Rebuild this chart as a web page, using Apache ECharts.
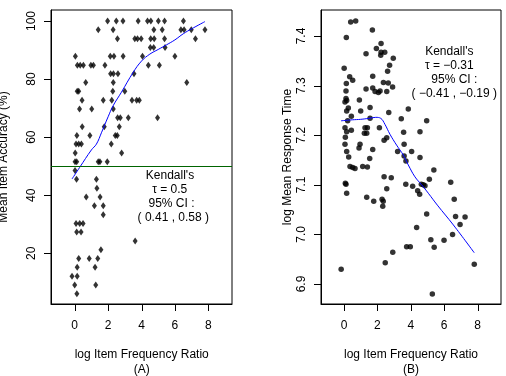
<!DOCTYPE html>
<html>
<head>
<meta charset="utf-8">
<script src="https://cdn.jsdelivr.net/npm/echarts@6/dist/echarts.min.js"></script>
</head>
<body style="margin:0;background:#fff">
<div id="main" style="width:506px;height:376px"></div>
<script>
// x tick values shared by both panels
let xTicks = [0, 2, 4, 6, 8];
let accTicks = [20, 40, 60, 80, 100];
let rtTicks = [6.9, 7.0, 7.1, 7.2, 7.3, 7.4];

// Panel A: accuracy rows (%) and the x positions of the items in each row
let accRows = [100, 97, 93.9, 90.9, 87.9, 84.8, 81.8, 78.8, 75.8, 72.7, 69.7, 66.7,
    63.6, 60.6, 57.6, 54.5, 51.5, 48.5, 45.5, 42.4, 39.4, 36.4, 33.3, 30.3, 27.3,
    24.2, 21.2, 18.2, 15.2, 12.1, 9.1, 6.1];
let accXs = [
    [1.97, 2.49, 2.89, 3.8, 4.36, 4.56, 5.01, 5.38, 6.51],
    [1.41, 2.3, 4.74, 5.24, 6.36, 6.55, 6.98, 7.8],
    [2.56, 3.6, 3.76, 3.98, 4.55, 4.76, 5.38, 7.23],
    [4.53, 4.73, 5.41],
    [0.04, 2.13, 2.35, 2.9, 4.06, 6.0],
    [0.16, 0.33, 0.52, 0.97, 1.12, 1.81, 4.41, 5.07],
    [2.15, 2.32, 2.59, 3.55],
    [0.66, 2.31, 6.71],
    [0.15, 0.24, 2.28, 3.0],
    [0.44, 1.71, 2.22, 3.43, 3.71, 3.87],
    [0.29, 1.02, 2.31],
    [2.57, 2.73, 3.21, 4.96],
    [0.45, 1.77, 2.67],
    [0.13, 0.91, 2.43, 2.55],
    [0.08, 0.24, 0.4, 2.19],
    [0.03, 2.81],
    [0.02, 0.12, 1.41, 1.51, 1.95],
    [0.02],
    [0.11, 1.3],
    [1.33],
    [0.69, 1.52],
    [1.18, 1.71],
    [1.71],
    [0.08, 0.3, 0.5],
    [0.12, 0.38],
    [3.62],
    [1.57],
    [0.24, 0.87, 1.38],
    [0.15, 1.22],
    [-0.16, 0.15],
    [0.0, 1.26],
    [0.13]
];
// loess-like smooth for panel A
let accFit = [[-0.16, 45.6], [0.3, 49.6], [1.0, 55.6], [1.3, 57.6], [1.6, 61.5],
    [2.0, 67], [2.3, 70.8], [2.8, 75.5], [3.5, 82.3], [4.0, 86.2], [4.5, 88.6],
    [5.0, 90.2], [5.5, 91.8], [6.0, 93.5], [6.5, 95.6], [7.0, 97.3], [7.8, 99.8]];

// Panel B: log mean response time per item
let rtPoints = [
    [0.40, 7.428], [0.70, 7.430], [0.14, 7.397], [1.70, 7.412], [2.22, 7.385],
    [1.32, 7.364], [1.94, 7.375], [2.22, 7.367], [2.2, 7.361], [2.44, 7.367],
    [2.95, 7.355], [2.73, 7.341], [2.61, 7.329], [0.01, 7.335], [0.34, 7.318],
    [0.52, 7.311], [1.72, 7.319], [0.14, 7.304], [2.36, 7.306], [2.65, 7.305],
    [2.91, 7.297], [1.32, 7.293], [1.72, 7.295], [1.86, 7.288], [2.06, 7.286],
    [2.16, 7.289], [2.56, 7.288], [0.12, 7.289], [0.12, 7.274], [0.16, 7.270],
    [0.06, 7.267], [0.92, 7.271], [1.56, 7.256], [3.85, 7.253], [0.26, 7.255],
    [0.16, 7.249], [1.0, 7.249], [2.68, 7.246], [0.22, 7.229], [0.44, 7.238],
    [1.56, 7.234], [3.43, 7.233], [4.95, 7.229], [0.06, 7.215], [0.16, 7.207],
    [0.44, 7.210], [1.26, 7.215], [1.40, 7.215], [1.22, 7.204], [1.36, 7.204],
    [2.12, 7.215], [3.57, 7.206], [4.55, 7.207], [0.08, 7.196], [2.56, 7.195],
    [2.40, 7.190], [0.06, 7.182], [0.96, 7.182], [0.90, 7.174], [1.72, 7.171],
    [0.16, 7.167], [3.21, 7.167], [4.05, 7.167], [0.28, 7.156], [1.54, 7.153],
    [3.60, 7.182], [3.60, 7.158], [3.71, 7.148], [4.55, 7.155], [0.36, 7.137],
    [0.52, 7.135], [0.66, 7.133], [1.12, 7.137], [1.40, 7.136], [5.38, 7.130],
    [2.40, 7.116], [2.83, 7.114], [5.11, 7.111], [0.08, 7.103], [0.12, 7.101],
    [3.70, 7.101], [4.11, 7.097], [4.63, 7.101], [4.75, 7.100], [4.85, 7.098],
    [6.39, 7.105], [2.56, 7.092], [4.41, 7.088], [4.53, 7.081], [0.16, 7.083],
    [1.36, 7.075], [1.78, 7.067], [2.28, 7.071], [2.35, 7.067], [2.32, 7.057],
    [6.60, 7.071], [4.95, 7.041], [4.35, 7.014], [3.75, 6.975], [3.97, 6.975],
    [5.20, 6.989], [5.40, 6.974], [5.99, 6.988], [6.50, 7.000], [6.68, 7.036],
    [6.95, 7.020], [7.25, 7.035], [7.80, 6.940], [5.29, 6.880], [2.92, 6.964],
    [2.47, 6.943], [-0.17, 6.930]
];
// smooth for panel B
let rtFit = [[-0.18, 7.229], [0.5, 7.231], [1.0, 7.232], [1.5, 7.234], [1.9, 7.236],
    [2.2, 7.234], [2.45, 7.222], [2.75, 7.202], [3.15, 7.180], [3.55, 7.160],
    [3.85, 7.140], [4.25, 7.116], [4.65, 7.100], [5.05, 7.083], [5.59, 7.059],
    [6.55, 7.019], [7.8, 6.963]];

let accThreshold = 50;

// axis ranges (R style padding)
let accX = [-1.419, 9.419], accY = [2.54, 103.79];
let rtX = [-1.377, 9.401], rtY = [6.8597, 7.4524];

// plot boxes
let gridA = { left: 51, top: 10, width: 181, height: 294 };
let gridB = { left: 321, top: 10, width: 180, height: 294 };

// Build panel A points from the rows
let accPoints = [];
for (let i = 0; i < accRows.length; i++) {
    accXs[i].forEach(x => accPoints.push([x, accRows[i]]));
}

let font = 'Liberation Sans, Arial, sans-serif';
let tickLen = 7;

function xAxisFor(gridIndex, range) {
    return {
        type: 'value', gridIndex: gridIndex, min: range[0], max: range[1],
        splitLine: { show: false },
        axisLine: { show: true, onZero: false, lineStyle: { color: '#000' } },
        axisTick: { show: false },
        axisLabel: { margin: 16, customValues: xTicks,
            color: '#000', fontFamily: font, fontSize: 12 }
    };
}

function yAxisFor(gridIndex, range, ticks, fmt) {
    return {
        type: 'value', gridIndex: gridIndex, min: range[0], max: range[1],
        splitLine: { show: false },
        axisLine: { show: true, onZero: false, lineStyle: { color: '#000' } },
        axisTick: { show: false },
        axisLabel: { margin: 13, rotate: 90, customValues: ticks,
            color: '#000', fontFamily: font, fontSize: 12, formatter: fmt }
    };
}

function label(text, x, y, rot) {
    return {
        type: 'text', x: x, y: y, rotation: rot || 0, z: 100,
        style: { text: text, fill: '#000', font: '12px ' + font,
            textAlign: 'center', textVerticalAlign: 'middle' }
    };
}

// tick marks outside each box, same linear mapping as the value axes
function tickLines(g, xr, yr, yTicks) {
    let out = [];
    let bottom = g.top + g.height;
    xTicks.forEach(v => {
        let x = Math.round(g.left + (v - xr[0]) / (xr[1] - xr[0]) * g.width) + 0.5;
        out.push({ type: 'line', z: 100,
            shape: { x1: x, y1: bottom, x2: x, y2: bottom + tickLen },
            style: { stroke: '#000', lineWidth: 1 } });
    });
    yTicks.forEach(v => {
        let y = Math.round(g.top + (yr[1] - v) / (yr[1] - yr[0]) * g.height) + 0.5;
        out.push({ type: 'line', z: 100,
            shape: { x1: g.left - tickLen, y1: y, x2: g.left, y2: y },
            style: { stroke: '#000', lineWidth: 1 } });
    });
    return out;
}

let texts = [
    // axis titles
    label('log Item Frequency Ratio', 141.7, 354.3),
    label('(A)', 141.7, 370),
    label('log Item Frequency Ratio', 411, 354.3),
    label('(B)', 411, 370),
    label('Mean Item Accuracy (%)', 4, 157, Math.PI / 2),
    label('log Mean Response Time', 288, 157, Math.PI / 2),
    // Kendall annotations
    label("Kendall's", 170, 175.7),
    label('\u03c4 = 0.5', 169.7, 190),
    label('95% CI :', 171.5, 204),
    label('( 0.41 , 0.58 )', 173.3, 217.3),
    label("Kendall's", 449.3, 51.7),
    label('\u03c4 = \u22120.31', 449.3, 66),
    label('95% CI :', 454.3, 80),
    label('( \u22120.41 , \u22120.19 )', 454.3, 93.3)
];

let tickMarks = tickLines(gridA, accX, accY, accTicks).concat(tickLines(gridB, rtX, rtY, rtTicks));

let myChart = echarts.init(document.getElementById('main'));
let option = {
    animation: false,
    grid: [
        Object.assign({ show: true, borderColor: '#000' }, gridA),
        Object.assign({ show: true, borderColor: '#000' }, gridB)
    ],
    xAxis: [
        xAxisFor(0, accX),
        xAxisFor(1, rtX)
    ],
    yAxis: [
        yAxisFor(0, accY, accTicks, v => String(v)),
        yAxisFor(1, rtY, rtTicks, v => v.toFixed(1))
    ],
    series: [
        {
            type: 'scatter', xAxisIndex: 0, yAxisIndex: 0,
            symbol: 'diamond', symbolSize: [5, 7],
            itemStyle: { color: '#000' },
            data: accPoints,
            markLine: {
                silent: true, symbol: 'none', label: { show: false },
                lineStyle: { color: '#006400', width: 1, type: 'solid' },
                data: [{ yAxis: accThreshold }]
            }
        },
        {
            type: 'line', xAxisIndex: 0, yAxisIndex: 0,
            smooth: 0.4, showSymbol: false,
            lineStyle: { color: '#0000ff', width: 1 },
            data: accFit
        },
        {
            type: 'scatter', xAxisIndex: 1, yAxisIndex: 1,
            symbol: 'circle', symbolSize: 5.5,
            itemStyle: { color: '#000' },
            data: rtPoints
        },
        {
            type: 'line', xAxisIndex: 1, yAxisIndex: 1,
            smooth: 0.4, showSymbol: false,
            lineStyle: { color: '#0000ff', width: 1 },
            data: rtFit
        }
    ],
    graphic: texts.concat(tickMarks)
};
myChart.setOption(option);
</script>
</body>
</html>
